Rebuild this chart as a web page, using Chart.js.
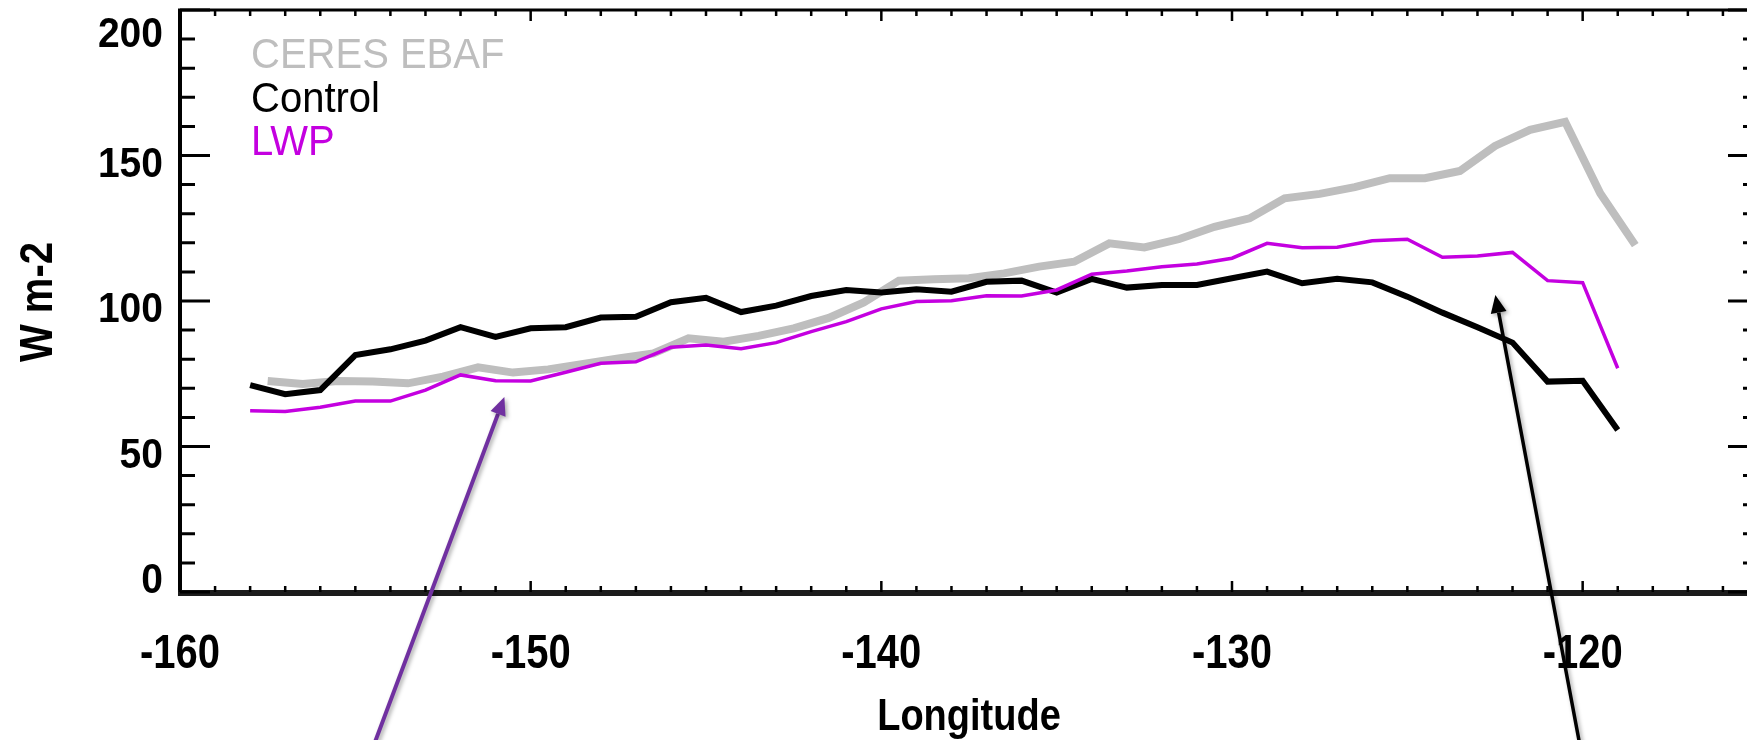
<!DOCTYPE html>
<html lang="en">
<head>
    <meta charset="UTF-8">
    <title>TOA shortwave along longitude</title>
    <script src="https://cdn.jsdelivr.net/npm/chart.js"></script>
    <style>
        html, body {
            margin: 0;
            padding: 0;
            background: #fff;
            overflow: hidden;
        }
        canvas {
            display: block;
        }
    </style>
</head>
<body>
    <canvas id="lonPlot" width="1800" height="740"></canvas>

    <script>
        // Model grid points (integer longitudes)
        const modelLon = [-158, -157, -156, -155, -154, -153, -152, -151, -150, -149,
                          -148, -147, -146, -145, -144, -143, -142, -141, -140, -139,
                          -138, -137, -136, -135, -134, -133, -132, -131, -130, -129,
                          -128, -127, -126, -125, -124, -123, -122, -121, -120, -119];

        // CERES grid points (half-degree centres)
        const ceresLon = [-157.5, -156.5, -155.5, -154.5, -153.5, -152.5, -151.5, -150.5, -149.5, -148.5,
                          -147.5, -146.5, -145.5, -144.5, -143.5, -142.5, -141.5, -140.5, -139.5, -138.5,
                          -137.5, -136.5, -135.5, -134.5, -133.5, -132.5, -131.5, -130.5, -129.5, -128.5,
                          -127.5, -126.5, -125.5, -124.5, -123.5, -122.5, -121.5, -120.5, -119.5, -118.5];

        const ceresEbaf = [72.5, 71.5, 72.5, 72.3, 71.7, 74.0, 77.2, 75.4, 76.5, 78.4,
                           80.3, 82.0, 87.2, 86.0, 88.0, 90.6, 94.2, 99.5, 107.0, 107.5,
                           107.8, 109.5, 111.8, 113.5, 119.8, 118.4, 121.3, 125.5, 128.4, 135.3,
                           136.8, 139.1, 142.2, 142.2, 144.7, 153.3, 158.8, 161.6, 137.0, 119.2];

        const control = [71.1, 68.0, 69.4, 81.4, 83.4, 86.4, 91.0, 87.7, 90.6, 91.0,
                         94.3, 94.6, 99.6, 101.1, 96.2, 98.4, 101.7, 103.8, 102.9, 104.0,
                         103.2, 106.6, 107.0, 102.9, 107.6, 104.6, 105.5, 105.5, 107.8, 110.1,
                         106.1, 107.6, 106.4, 101.5, 96.0, 91.0, 85.7, 72.3, 72.6, 55.7];

        const lwp = [62.3, 62.0, 63.5, 65.6, 65.6, 69.4, 74.6, 72.6, 72.5, 75.5,
                     78.6, 79.1, 84.1, 84.9, 83.6, 85.7, 89.5, 92.9, 97.3, 99.8,
                     100.1, 101.8, 101.7, 103.8, 109.2, 110.3, 111.8, 112.7, 114.7, 119.8,
                     118.3, 118.5, 120.7, 121.2, 115.0, 115.5, 116.7, 107.0, 106.3, 76.9];

        const xTickLabels = [-160, -150, -140, -130, -120];
        const yTickLabels = [0, 50, 100, 150, 200];

        const seriesNames = ['CERES EBAF', 'Control', 'LWP'];
        const seriesColors = ['#bebebe', '#000000', '#c400e0'];

        // Annotation arrows, [lon, value] for tail and tip
        const arrows = [
            { tail: [-154.63, -57.7], tip: [-150.75, 67.0], color: '#7030a0', width: 4 },
            { tail: [-120.0, -57.7], tip: [-122.49, 102.1], color: '#000000', width: 3.5 }
        ];

        const toPoints = (lons, vals) => lons.map((lon, i) => ({ x: lon, y: vals[i] }));

        // Draw text squeezed a bit wider-than-tall like the plotting package does
        function stretchedText(ctx, text, x, y, sy, align, angle) {
            ctx.save();
            ctx.translate(x, y);
            if (angle) ctx.rotate(angle);
            ctx.scale(1, sy);
            ctx.textAlign = align;
            ctx.textBaseline = 'alphabetic';
            ctx.fillText(text, 0, 0);
            ctx.restore();
        }

        function drawArrow(ctx, x0, y0, x1, y1, color, width) {
            const ang = Math.atan2(y1 - y0, x1 - x0);
            const headLen = 18, headHalf = 8;
            const bx = x1 - headLen * Math.cos(ang);
            const by = y1 - headLen * Math.sin(ang);
            ctx.save();
            ctx.shadowColor = 'rgba(0,0,0,0.35)';
            ctx.shadowBlur = 4;
            ctx.shadowOffsetX = 2;
            ctx.shadowOffsetY = 2;
            ctx.strokeStyle = color;
            ctx.fillStyle = color;
            ctx.lineWidth = width;
            ctx.beginPath();
            ctx.moveTo(x0, y0);
            ctx.lineTo(bx, by);
            ctx.stroke();
            ctx.beginPath();
            ctx.moveTo(x1, y1);
            ctx.lineTo(bx + headHalf * Math.sin(ang), by - headHalf * Math.cos(ang));
            ctx.lineTo(bx - headHalf * Math.sin(ang), by + headHalf * Math.cos(ang));
            ctx.closePath();
            ctx.fill();
            ctx.restore();
        }

        // Box axes with inward ticks on all four sides, labels and legend text
        const boxAxes = {
            id: 'boxAxes',
            afterDraw(chart) {
                const { ctx, chartArea: a, scales: { x, y } } = chart;
                ctx.save();
                ctx.strokeStyle = '#000';
                ctx.lineCap = 'butt';

                // frame
                ctx.lineWidth = 4;
                ctx.beginPath();
                ctx.moveTo(a.left, a.bottom);
                ctx.lineTo(a.left, a.top);
                ctx.stroke();
                ctx.lineWidth = 3;
                ctx.beginPath();
                ctx.moveTo(a.left - 2, a.top);
                ctx.lineTo(a.right, a.top);
                ctx.moveTo(a.right, a.top);
                ctx.lineTo(a.right, a.bottom);
                ctx.stroke();
                ctx.lineWidth = 6;
                ctx.strokeStyle = '#1c1c1c';
                ctx.beginPath();
                ctx.moveTo(a.left - 2, a.bottom + 1);
                ctx.lineTo(a.right, a.bottom + 1);
                ctx.stroke();
                ctx.strokeStyle = '#000';

                // x ticks, every degree, longer every ten
                ctx.lineWidth = 2.5;
                for (let lon = x.min; lon <= x.max; lon++) {
                    const px = x.getPixelForValue(lon);
                    const len = lon % 10 === 0 ? 11 : 6;
                    ctx.beginPath();
                    ctx.moveTo(px, a.bottom);
                    ctx.lineTo(px, a.bottom - len);
                    ctx.moveTo(px, a.top);
                    ctx.lineTo(px, a.top + len);
                    ctx.stroke();
                }

                // y ticks, every 10, longer every 50
                ctx.lineWidth = 3;
                for (let v = y.min; v <= y.max; v += 10) {
                    const py = y.getPixelForValue(v);
                    const len = v % 50 === 0 ? 30 : 15;
                    ctx.beginPath();
                    ctx.moveTo(a.left, py);
                    ctx.lineTo(a.left + len, py);
                    ctx.moveTo(a.right, py);
                    ctx.lineTo(a.right - len, py);
                    ctx.stroke();
                }

                // tick labels
                ctx.fillStyle = '#000';
                ctx.font = 'bold 40px "Liberation Sans", Arial, sans-serif';
                xTickLabels.forEach(v => {
                    stretchedText(ctx, String(v), x.getPixelForValue(v), a.bottom + 76, 1.19, 'center');
                });
                ctx.font = 'bold 39px "Liberation Sans", Arial, sans-serif';
                yTickLabels.forEach(v => {
                    const c = Math.min(Math.max(y.getPixelForValue(v) + 6, a.top + 22), a.bottom - 14);
                    stretchedText(ctx, String(v), a.left - 17, c + 15, 1.07, 'right');
                });

                // axis titles
                ctx.font = 'bold 38px "Liberation Sans", Arial, sans-serif';
                stretchedText(ctx, 'Longitude', (a.left + a.right) / 2, a.bottom + 138, 1.17, 'center');
                ctx.font = 'bold 40px "Liberation Sans", Arial, sans-serif';
                stretchedText(ctx, 'W m-2', 52, (a.top + a.bottom) / 2 + 1, 1.15, 'center', -Math.PI / 2);

                // legend
                ctx.font = '40px "Liberation Sans", Arial, sans-serif';
                seriesNames.forEach((name, i) => {
                    ctx.fillStyle = seriesColors[i];
                    stretchedText(ctx, name, a.left + 71, a.top + 58 + i * 43.5, 1.06, 'left');
                });

                // arrows
                arrows.forEach(ar => {
                    drawArrow(ctx,
                        x.getPixelForValue(ar.tail[0]), y.getPixelForValue(ar.tail[1]),
                        x.getPixelForValue(ar.tip[0]), y.getPixelForValue(ar.tip[1]),
                        ar.color, ar.width);
                });
                ctx.restore();
            }
        };

        new Chart(document.getElementById('lonPlot'), {
            type: 'line',
            data: {
                datasets: [
                    {
                        label: seriesNames[0],
                        data: toPoints(ceresLon, ceresEbaf),
                        borderColor: seriesColors[0],
                        borderWidth: 8,
                        order: 2
                    },
                    {
                        label: seriesNames[1],
                        data: toPoints(modelLon, control),
                        borderColor: seriesColors[1],
                        borderWidth: 6,
                        order: 1
                    },
                    {
                        label: seriesNames[2],
                        data: toPoints(modelLon, lwp),
                        borderColor: seriesColors[2],
                        borderWidth: 3.5,
                        order: 0
                    }
                ]
            },
            options: {
                responsive: false,
                animation: false,
                events: [],
                layout: {
                    padding: { left: 180, top: 10, right: 42, bottom: 148 }
                },
                elements: {
                    point: { radius: 0 },
                    line: { tension: 0, fill: false }
                },
                scales: {
                    x: { type: 'linear', min: -160, max: -115, display: false },
                    y: { type: 'linear', min: 0, max: 200, display: false }
                },
                plugins: {
                    legend: { display: false },
                    tooltip: { enabled: false }
                }
            },
            plugins: [boxAxes]
        });
    </script>
</body>
</html>
